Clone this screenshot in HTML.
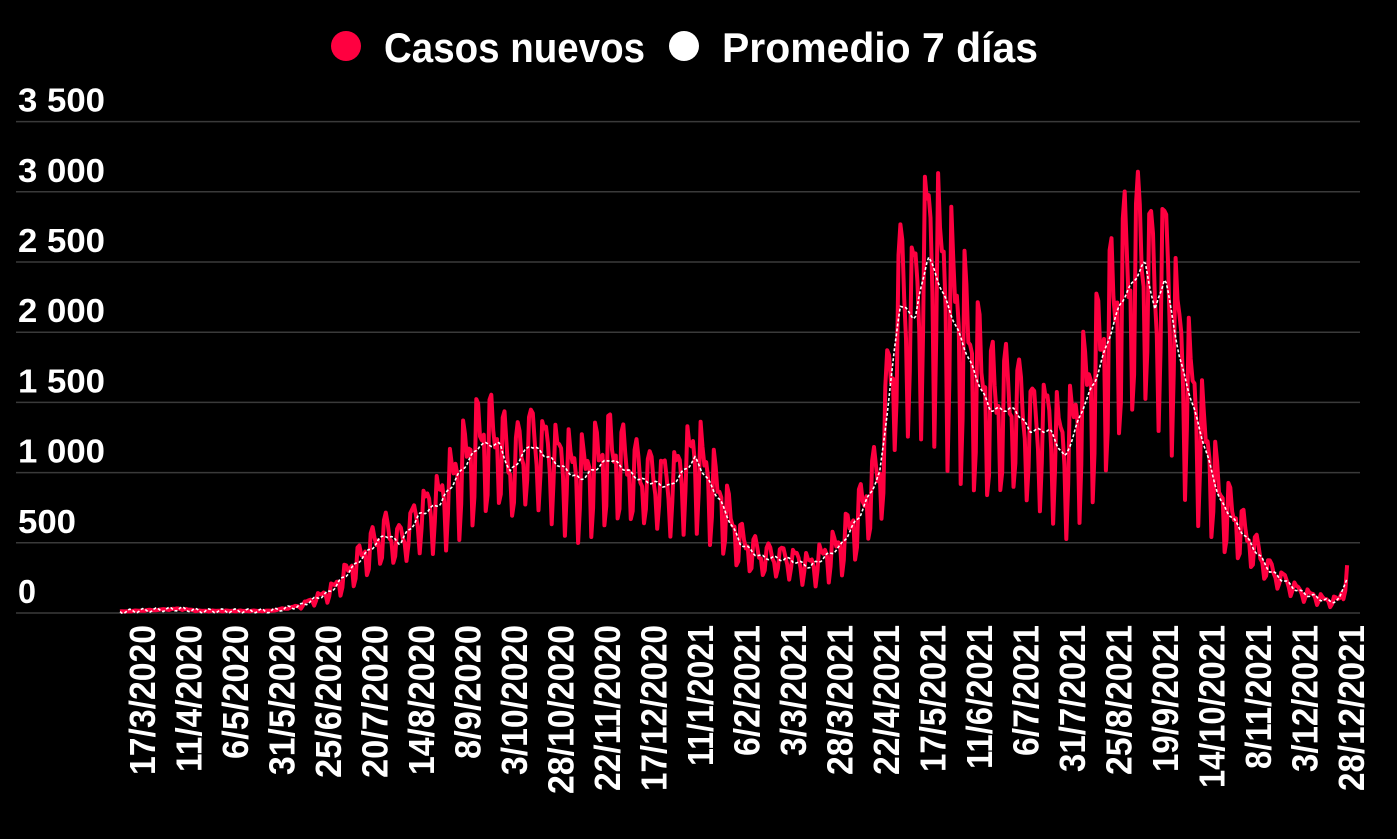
<!DOCTYPE html>
<html><head><meta charset="utf-8"><style>
html,body{margin:0;padding:0;background:#000;overflow:hidden}
svg{display:block}
text{font-family:"Liberation Sans",sans-serif;font-weight:bold;fill:#fff}
</style></head><body>
<svg id="s" width="1397" height="839" viewBox="0 0 1397 839">
<rect width="1397" height="839" fill="#000"/>
<circle cx="346" cy="46" r="15" fill="#ff0040"/>
<text x="384" y="62" font-size="42" textLength="261" lengthAdjust="spacingAndGlyphs">Casos nuevos</text>
<circle cx="684" cy="46" r="15" fill="#fff"/>
<text x="722" y="62" font-size="42" textLength="316" lengthAdjust="spacingAndGlyphs">Promedio 7 días</text>
<g id="grid"></g>
<g id="xl"></g>
<path id="red" fill="none" stroke="#ff0040" stroke-width="4" stroke-linejoin="round"/>
<path id="avg" fill="none" stroke="#fff" stroke-width="1.6" stroke-dasharray="3,2"/>
</svg>
<script>
var NS="http://www.w3.org/2000/svg";
function el(t,a,txt){var e=document.createElementNS(NS,t);for(var k in a)e.setAttribute(k,a[k]);if(txt!=null)e.textContent=txt;return e;}
var g=document.getElementById('grid');
var yl=["0","500","1 000","1 500","2 000","2 500","3 000","3 500"];
for(var i=0;i<8;i++){var y=613-i*70.2;
 g.appendChild(el('line',{x1:16,x2:1360,y1:y,y2:y,stroke:"#3a3a3a","stroke-width":1.5}));
 g.appendChild(el('text',{x:18,y:y-10,"font-size":33,textLength:i==0?18:(i<2?58:87),lengthAdjust:"spacingAndGlyphs"},yl[i]));}
var labs=["17/3/2020","11/4/2020","6/5/2020","31/5/2020","25/6/2020","20/7/2020","14/8/2020","8/9/2020","3/10/2020","28/10/2020","22/11/2020","17/12/2020","11/1/2021","6/2/2021","3/3/2021","28/3/2021","22/4/2021","17/5/2021","11/6/2021","6/7/2021","31/7/2021","25/8/2021","19/9/2021","14/10/2021","8/11/2021","3/12/2021","28/12/2021"];
var xl=document.getElementById('xl');
labs.forEach(function(l,i){var x=142+i*46.5+13;
 var w=0;for(var c of l){w+=c=='/'?10:(c=='1'?16:19);}
 xl.appendChild(el('text',{transform:"translate("+x+",625) rotate(-90)","text-anchor":"end","font-size":36,textLength:w,lengthAdjust:"spacingAndGlyphs"},l));});
var kp=[[120,10],[180,30],[200,15],[270,15],[300,50],[330,150],[360,380],[385,560],[400,500],[420,700],[440,780],[460,1000],[480,1200],[500,1200],[510,1000],[530,1200],[550,1100],[580,950],[610,1100],[640,950],[670,900],[695,1100],[720,800],[740,500],[760,400],[790,380],[810,330],[840,470],[860,700],[880,1000],[900,2200],[915,2100],[928,2550],[950,2150],[975,1700],[990,1450],[1015,1450],[1030,1300],[1050,1300],[1065,1100],[1085,1500],[1095,1650],[1120,2200],[1145,2500],[1155,2150],[1165,2400],[1180,1800],[1200,1300],[1220,800],[1240,600],[1270,300],[1300,150],[1330,80],[1340,100],[1347,260]];
function av(x){for(var i=1;i<kp.length;i++){if(x<=kp[i][0]){var a=kp[i-1],b=kp[i];return a[1]+(b[1]-a[1])*(x-a[0])/(b[0]-a[0]);}}return kp[kp.length-1][1];}
var pat=[1.25,1.22,1.12,1.05,0.98,0.6,0.78];
var N=651,dr="",da="";
for(var d=0;d<=N;d++){var x=120+d*1.885;var a=av(x);
 var amp=x<300?0.5:(x>880&&x<1200?1.15:1.0);
 var f=1+amp*(pat[d%7]-1)+0.08*Math.sin(d*1.7);
 var v=Math.max(0,a*f);
 var y=613-v*0.1404, ya=613-a*0.1404+2*Math.sin(d*0.9);
 dr+=(d?"L":"M")+x.toFixed(1)+","+y.toFixed(1);
 da+=(d?"L":"M")+x.toFixed(1)+","+ya.toFixed(1);}
document.getElementById('red').setAttribute('d',dr);
document.getElementById('avg').setAttribute('d',da);
</script>
</body></html>
